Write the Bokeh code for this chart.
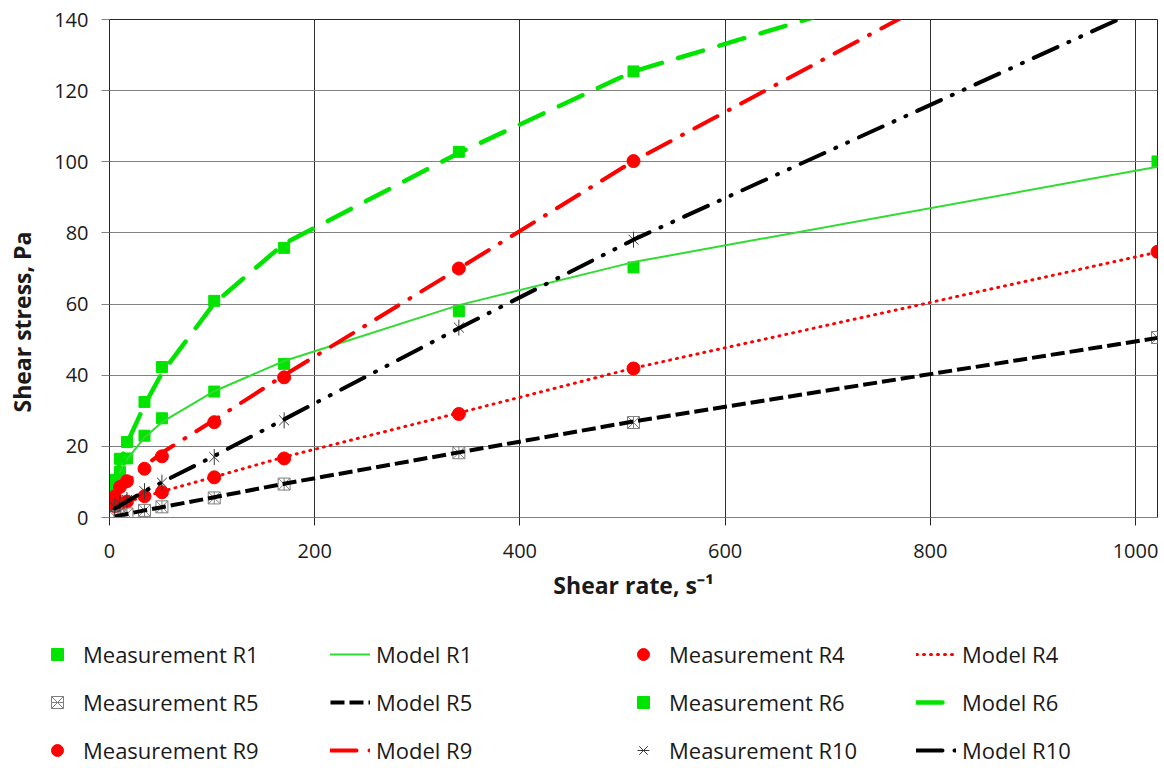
import math
from bokeh.plotting import figure
from bokeh.layouts import row, column
from bokeh.models import Range1d, FixedTicker, Legend, LegendItem, Label
from bokeh.embed import file_html
from bokeh.resources import INLINE

nan = float("nan")

# Shear rates (s^-1) of the rheometer readings
shear_rate = [5.1, 10.2, 17.0, 34.1, 51.1, 102.1, 170.2, 340.5, 510.7, 1021.4]

# Measured shear stress (Pa)
meas_r1 = [9.0, 12.8, 16.6, 23.0, 27.9, 35.4, 43.2, 58.0, 70.3, 100.1]
meas_r4 = [3.2, 3.9, 4.5, 6.0, 7.1, 11.3, 16.6, 29.1, 41.9, 74.7]
meas_r5 = [0.3, 0.6, 1.0, 2.0, 3.0, 5.5, 9.4, 18.2, 26.7, 50.6]
meas_r6 = [10.6, 16.5, 21.2, 32.5, 42.3, 60.9, 75.8, 102.8, 125.4, nan]
meas_r9 = [5.9, 8.6, 10.2, 13.7, 17.2, 26.8, 39.4, 70.0, 100.2, nan]
meas_r10 = [2.9, 3.9, 4.9, 7.4, 9.8, 17.0, 27.3, 53.4, 78.1, nan]

# Model shear stress (Pa)
model_r1 = [9.5, 12.8, 16.3, 22.5, 26.8, 35.5, 44.0, 59.7, 71.8, 98.6]
model_r4 = [3.1, 3.7, 4.4, 5.9, 7.3, 11.4, 17.0, 29.4, 42.0, 74.6]
model_r5 = [0.3, 0.6, 1.0, 2.0, 2.9, 5.7, 9.5, 18.3, 27.0, 50.5]
model_r6 = [11.0, 15.8, 20.8, 31.6, 40.6, 60.2, 77.0, 102.5, 125.4, 169.6]
model_r9 = [5.6, 7.6, 10.0, 14.4, 18.2, 27.4, 40.0, 70.0, 100.2, 179.0]
model_r10 = [2.5, 3.3, 4.5, 7.4, 9.9, 17.3, 27.6, 53.2, 78.1, 145.0]

x_ticks = [0, 200, 400, 600, 800, 1000]
y_ticks = [0, 20, 40, 60, 80, 100, 120, 140]

FONT = "Open Sans"
TXT = "#1a1a1a"
GREEN = "#00e400"
GREEN_LINE = "#2fdc2f"
RED = "#ff0000"

# ---------------- main chart ----------------
p = figure(width=1117, height=620,
           x_range=Range1d(0, shear_rate[-1]), y_range=Range1d(0, 140),
           output_backend="svg", toolbar_location=None,
           min_border_left=64, min_border_right=5, min_border_top=19, min_border_bottom=103,
           background_fill_color="white", border_fill_color="white")
p.outline_line_color = "#262626"
p.outline_line_width = 1

p.xaxis.ticker = FixedTicker(ticks=x_ticks)
p.yaxis.ticker = FixedTicker(ticks=y_ticks)
p.xgrid.grid_line_color = "#303030"
p.xgrid.grid_line_width = 1
p.ygrid.grid_line_color = "#808080"
p.ygrid.grid_line_width = 1.2

for ax in (p.xaxis[0], p.yaxis[0]):
    ax.major_label_text_font = FONT
    ax.major_label_text_font_size = "20px"
    ax.major_label_text_color = TXT
    ax.major_tick_out = 8
    ax.major_tick_in = 0
    ax.minor_tick_out = 0
    ax.minor_tick_in = 0
    ax.minor_tick_line_color = None
p.xaxis.axis_line_color = "#808080"
p.xaxis.major_tick_line_color = "#262626"
p.xaxis.major_label_standoff = 18
p.yaxis.axis_line_color = "#262626"
p.yaxis.major_tick_line_color = "#808080"
p.yaxis.major_label_standoff = 13

p.xaxis.axis_label = "Shear rate, s\u207b\u00b9"
p.xaxis.axis_label_text_font = FONT
p.xaxis.axis_label_text_font_size = "23px"
p.xaxis.axis_label_text_font_style = "bold"
p.xaxis.axis_label_text_color = TXT
p.xaxis.axis_label_standoff = 8

# series styles (shared by the chart and the legend strip)
STYLES = {
    "meas_r1": dict(marker="square", size=11, fill_color=GREEN, line_color=GREEN),
    "meas_r4": dict(marker="circle", size=13, fill_color=RED, line_color=RED),
    "meas_r5a": dict(marker="square_x", size=12, fill_color=None, line_color="#7f7f7f", line_width=1),
    "meas_r5b": dict(marker="dash", size=12, angle=math.pi / 2, line_color="#7f7f7f", line_width=1),
    "meas_r6": dict(marker="square", size=11, fill_color=GREEN, line_color=GREEN),
    "meas_r9": dict(marker="circle", size=13, fill_color=RED, line_color=RED),
    "meas_r10a": dict(marker="x", size=14, line_color="#383838", line_width=1),
    "meas_r10b": dict(marker="dash", size=16, angle=math.pi / 2, line_color="#383838", line_width=1),
    "model_r1": dict(line_color=GREEN_LINE, line_width=2, line_dash="solid", line_cap="round"),
    "model_r4": dict(line_color=RED, line_width=3, line_dash="1 6", line_cap="round"),
    "model_r5": dict(line_color="black", line_width=4, line_dash="14 5", line_cap="butt"),
    "model_r6": dict(line_color=GREEN, line_width=4.5, line_dash="26 17", line_cap="round"),
    "model_r9": dict(line_color=RED, line_width=4, line_dash="26 13 1 13", line_cap="round"),
    "model_r10": dict(line_color="black", line_width=4, line_dash="26 12 1 12 1 12", line_cap="round"),
}

ORDER = ["meas_r1", "model_r1", "meas_r4", "model_r4", "meas_r5a", "meas_r5b", "model_r5",
         "meas_r6", "model_r6", "meas_r9", "model_r9", "meas_r10a", "meas_r10b", "model_r10"]


def draw_series(fig, data):
    r = {}
    for name in ORDER:
        x, y = data[name]
        if name.startswith("model"):
            r[name] = fig.line(x, y, line_join="round", **STYLES[name])
        else:
            r[name] = fig.scatter(x, y, **STYLES[name])
    return r


chart_data = {
    "meas_r1": (shear_rate, meas_r1), "model_r1": (shear_rate, model_r1),
    "meas_r4": (shear_rate, meas_r4), "model_r4": (shear_rate, model_r4),
    "meas_r5a": (shear_rate, meas_r5), "meas_r5b": (shear_rate, meas_r5),
    "model_r5": (shear_rate, model_r5),
    "meas_r6": (shear_rate, meas_r6), "model_r6": (shear_rate, model_r6),
    "meas_r9": (shear_rate, meas_r9), "model_r9": (shear_rate, model_r9),
    "meas_r10a": (shear_rate, meas_r10), "meas_r10b": (shear_rate, meas_r10),
    "model_r10": (shear_rate, model_r10),
}
draw_series(p, chart_data)

# ---------------- y-axis title strip ----------------
p_yl = figure(width=45, height=620, x_range=Range1d(0, 1), y_range=Range1d(0, 1),
              x_axis_type=None, y_axis_type=None,
              output_backend="svg", toolbar_location=None,
              min_border_left=0, min_border_right=0, min_border_top=0, min_border_bottom=0,
              background_fill_color="white", border_fill_color="white")
p_yl.outline_line_color = None
p_yl.add_layout(Label(x=21, y=105, x_units="screen", y_units="screen",
                      text="Shear stress, Pa", angle=math.pi / 2,
                      text_align="left", text_baseline="middle",
                      text_font=FONT, text_font_size="23px", text_font_style="bold",
                      text_color=TXT))

# ---------------- legend strip ----------------
p_lg = figure(width=1162, height=146, x_range=Range1d(0, 1), y_range=Range1d(0, 1),
              x_axis_type=None, y_axis_type=None,
              output_backend="svg", toolbar_location=None,
              min_border_left=37, min_border_right=0, min_border_top=19, min_border_bottom=0,
              background_fill_color="white", border_fill_color="white")
p_lg.outline_line_color = None
legend_only = ([nan], [nan])   # invisible points: only the legend swatches are drawn
lr = draw_series(p_lg, {k: legend_only for k in chart_data})

items = [
    LegendItem(label="Measurement R1", renderers=[lr["meas_r1"]]),
    LegendItem(label="Model R1", renderers=[lr["model_r1"]]),
    LegendItem(label="Measurement R4", renderers=[lr["meas_r4"]]),
    LegendItem(label="Model R4", renderers=[lr["model_r4"]]),
    LegendItem(label="Measurement R5", renderers=[lr["meas_r5a"], lr["meas_r5b"]]),
    LegendItem(label="Model R5", renderers=[lr["model_r5"]]),
    LegendItem(label="Measurement R6", renderers=[lr["meas_r6"]]),
    LegendItem(label="Model R6", renderers=[lr["model_r6"]]),
    LegendItem(label="Measurement R9", renderers=[lr["meas_r9"]]),
    LegendItem(label="Model R9", renderers=[lr["model_r9"]]),
    LegendItem(label="Measurement R10", renderers=[lr["meas_r10a"], lr["meas_r10b"]]),
    LegendItem(label="Model R10", renderers=[lr["model_r10"]]),
]
legend = Legend(items=items, orientation="horizontal", ncols=4, location="top_left",
                glyph_width=40, glyph_height=30, label_height=30, label_width=229,
                label_standoff=6, spacing=18, padding=0, margin=0,
                border_line_color=None, background_fill_alpha=0,
                label_text_font=FONT, label_text_font_size="22px",
                label_text_color=TXT)
p_lg.add_layout(legend, "center")

layout = column(row(p_yl, p, spacing=0), p_lg, spacing=0)
open("out.html", "w").write(file_html(layout, INLINE))
